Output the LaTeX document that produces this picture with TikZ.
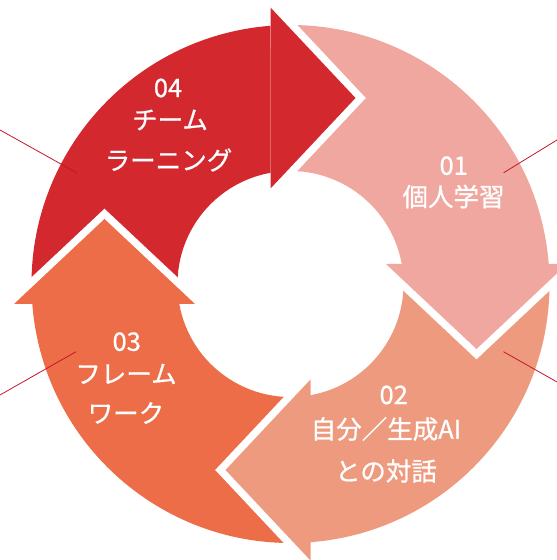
\documentclass[tikz,border=0pt]{standalone}
\usepackage{fontspec}
\setmainfont{Noto Sans CJK JP}[FakeBold=0.8]
\definecolor{cRed}{HTML}{D2282E}
\definecolor{cPink}{HTML}{EFA79F}
\definecolor{cSalmon}{HTML}{EE9A7E}
\definecolor{cOrange}{HTML}{EC6D47}
\definecolor{cLeader}{HTML}{C4162C}
\tikzset{
  lbl/.style={text=white, inner sep=0pt, font=\fontsize{25.5}{30}\selectfont},
  leader/.style={draw=cLeader, line width=0.8pt},
  gapline/.style={draw=white, line width=15pt, line join=miter},
}
\newcommand{\arrowbody}[1]{%
  \fill[#1] (184.43:259pt) arc[start angle=184.43, end angle=94.43, radius=259pt]
    -- (100.19:113pt) arc[start angle=100.19, end angle=190.19, radius=113pt] -- cycle;}
\newcommand{\arrowhead}[1]{%
  \draw[gapline] (-20pt,276.5pt) -- (65pt,186pt) -- (-20pt,95.5pt);
  \fill[#1] (-20pt,276.5pt) -- (65pt,186pt) -- (-20pt,95.5pt) -- cycle;}
\begin{document}
\begin{tikzpicture}[x=1pt,y=1pt]
\useasboundingbox (0,0) rectangle (557,560);
\clip (0,0) rectangle (557,560);
% bodies
\begin{scope}[shift={(290.5,276)}]
  \arrowbody{cRed}
  \begin{scope}[rotate=-90]\arrowbody{cPink}\end{scope}
  \begin{scope}[rotate=-180]\arrowbody{cSalmon}\end{scope}
  \begin{scope}[rotate=90]\arrowbody{cOrange}\end{scope}
  % heads
  \arrowhead{cRed}
  \begin{scope}[rotate=-90]\arrowhead{cPink}\end{scope}
  \begin{scope}[rotate=-180]\arrowhead{cSalmon}\end{scope}
  \begin{scope}[rotate=90]\arrowhead{cOrange}\end{scope}
\end{scope}
% leader lines
\coordinate (l1a) at (0,430);   \coordinate (l1b) at (77,387);
\coordinate (l2a) at (557,420); \coordinate (l2b) at (503.7,387.3);
\coordinate (l3a) at (0,165);   \coordinate (l3b) at (76,208.3);
\coordinate (l4a) at (557,178); \coordinate (l4b) at (503.5,208.3);
\draw[leader] (l1a) -- (l1b);
\draw[leader] (l2a) -- (l2b);
\draw[leader] (l3a) -- (l3b);
\draw[leader] (l4a) -- (l4b);
% labels
\node[lbl] (n04) at (168,472) {04};
\node[lbl] (t04a) at (170,440) {チーム};
\node[lbl] (t04b) at (168.5,400) {ラーニング};
\node[lbl] (n01) at (453.7,394.3) {01};
\node[lbl] (t01a) at (453.5,363.5) {個人学習};
\node[lbl] (n02) at (393.7,165) {02};
\node[lbl] (t02a) at (386,131) {自分／生成AI};
\node[lbl] (t02b) at (386,89) {との対話};
\node[lbl] (n03) at (126.7,218.3) {03};
\node[lbl] (t03a) at (126,186) {フレーム};
\node[lbl] (t03b) at (126,147) {ワーク};
\end{tikzpicture}
\end{document}
